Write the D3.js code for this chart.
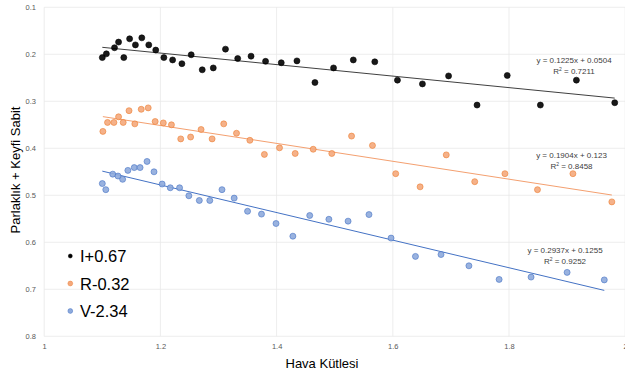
<!DOCTYPE html>
<html>
<head>
<meta charset="utf-8">
<script src="https://cdn.jsdelivr.net/npm/d3@7"></script>
<style>
  body { margin: 0; background: #fff; }
  svg { display: block; font-family: "Liberation Sans", Arial, sans-serif; }
</style>
</head>
<body>
<svg id="chart" width="625" height="378"></svg>
<script>
// air mass (x) and magnitude + arbitrary constant (y)
const xI = [1.100, 1.107, 1.121, 1.128, 1.137, 1.147, 1.157, 1.168, 1.180, 1.192, 1.206, 1.221, 1.237, 1.253, 1.272, 1.291, 1.312,
    1.333, 1.356, 1.381, 1.408, 1.435, 1.466, 1.498, 1.532, 1.569, 1.608, 1.651, 1.696, 1.745, 1.797, 1.854, 1.916, 1.982]
const yI = [0.207, 0.199, 0.186, 0.174, 0.207, 0.167, 0.180, 0.165, 0.180, 0.191, 0.207, 0.212, 0.220, 0.201, 0.233, 0.229, 0.189,
    0.209, 0.204, 0.215, 0.218, 0.214, 0.260, 0.229, 0.212, 0.216, 0.255, 0.263, 0.246, 0.308, 0.245, 0.308, 0.255, 0.303]

const xR = [1.101, 1.109, 1.120, 1.128, 1.136, 1.146, 1.156, 1.167, 1.179, 1.191, 1.205, 1.219, 1.235, 1.252, 1.270, 1.289, 1.309,
    1.331, 1.354, 1.379, 1.405, 1.432, 1.463, 1.495, 1.529, 1.565, 1.605, 1.647, 1.692, 1.741, 1.793, 1.849, 1.910, 1.977]
const yR = [0.364, 0.345, 0.345, 0.333, 0.345, 0.320, 0.348, 0.317, 0.314, 0.343, 0.346, 0.350, 0.380, 0.376, 0.360, 0.380, 0.348,
    0.368, 0.383, 0.413, 0.399, 0.411, 0.402, 0.411, 0.374, 0.394, 0.454, 0.482, 0.414, 0.471, 0.454, 0.488, 0.454, 0.514]

const xV = [1.100, 1.106, 1.118, 1.127, 1.135, 1.144, 1.155, 1.165, 1.177, 1.189, 1.203, 1.217, 1.233, 1.249, 1.267, 1.285, 1.306,
    1.327, 1.350, 1.374, 1.399, 1.428, 1.457, 1.490, 1.523, 1.559, 1.597, 1.639, 1.683, 1.731, 1.783, 1.838, 1.900, 1.964]
const yV = [0.475, 0.488, 0.455, 0.459, 0.466, 0.447, 0.441, 0.441, 0.428, 0.450, 0.476, 0.484, 0.484, 0.501, 0.511, 0.511, 0.488,
    0.506, 0.534, 0.540, 0.560, 0.587, 0.543, 0.551, 0.555, 0.541, 0.591, 0.630, 0.626, 0.650, 0.679, 0.674, 0.664, 0.680]

const seriesNames = ['I+0.67', 'R-0.32', 'V-2.34']
const slopes = [0.1225, 0.1904, 0.2937]
const intercepts = [0.0504, 0.123, 0.1255]
const r2 = ['0.7211', '0.8458', '0.9252']
const interceptLabels = ['0.0504', '0.123', '0.1255']

const xTicks = [1, 1.2, 1.4, 1.6, 1.8, 2]
const yTicks = [0.1, 0.2, 0.3, 0.4, 0.5, 0.6, 0.7, 0.8]

const svg = d3.select('#chart')

const x = d3.scaleLinear().domain([1, 2]).range([44.2, 625.2])
const y = d3.scaleLinear().domain([0.1, 0.8]).range([7.3, 336.3])

// grid
const grid = svg.append('g')
grid.selectAll('.hg').data(yTicks).join('line')
    .attr('x1', x(1)).attr('x2', x(2))
    .attr('y1', d => y(d)).attr('y2', d => y(d))
    .attr('stroke', '#e9e9e9').attr('stroke-width', 0.8)
grid.selectAll('.vg').data(xTicks).join('line')
    .attr('x1', d => x(d)).attr('x2', d => x(d))
    .attr('y1', y(0.1)).attr('y2', y(0.8))
    .attr('stroke', '#e9e9e9').attr('stroke-width', 0.8)

// axes (labels only, no domain line)
const yAxis = svg.append('g')
    .attr('transform', 'translate(40,0)')
    .call(d3.axisLeft(y).tickValues(yTicks).tickSize(0).tickPadding(4).tickFormat(d3.format('.1f')))
yAxis.select('.domain').remove()
yAxis.selectAll('text').attr('fill', '#595959').style('font-size', '7.5px')

const xAxis = svg.append('g')
    .attr('transform', 'translate(0,341)')
    .call(d3.axisBottom(x).tickValues(xTicks).tickSize(0).tickPadding(3).tickFormat(d => d3.format('')(+d.toFixed(1))))
xAxis.select('.domain').remove()
xAxis.selectAll('text').attr('fill', '#595959').style('font-size', '7.5px')

const series = [
    { name: seriesNames[0], xs: xI, ys: yI, fill: '#000000', stroke: '#000000', line: '#404040' },
    { name: seriesNames[1], xs: xR, ys: yR, fill: '#f4a87c', stroke: '#ed7d31', line: '#f4a070' },
    { name: seriesNames[2], xs: xV, ys: yV, fill: '#8eaadc', stroke: '#4472c4', line: '#4472c4' }
]

// trend lines from the printed equations
series.forEach((s, i) => {
    const x0 = d3.min(s.xs), x1 = d3.max(s.xs)
    svg.append('line')
        .attr('x1', x(x0)).attr('y1', y(slopes[i] * x0 + intercepts[i]))
        .attr('x2', x(x1)).attr('y2', y(slopes[i] * x1 + intercepts[i]))
        .attr('stroke', s.line).attr('stroke-width', 1)
})

// points
series.forEach(s => {
    svg.append('g').selectAll('circle')
        .data(s.xs.map((v, j) => [v, s.ys[j]]))
        .join('circle')
        .attr('cx', d => x(d[0])).attr('cy', d => y(d[1]))
        .attr('r', 3)
        .attr('fill', s.fill).attr('fill-opacity', 0.9)
        .attr('stroke', s.stroke).attr('stroke-width', 0.6)
})

// equation labels
const eqPos = [[574, 63], [571.5, 157.5], [565, 253]]
series.forEach((s, i) => {
    const g = svg.append('g').attr('fill', '#404040').style('font-size', '8px').attr('text-anchor', 'middle')
    g.append('text').attr('x', eqPos[i][0]).attr('y', eqPos[i][1])
        .text(`y = ${slopes[i]}x + ${interceptLabels[i]}`)
    const t = g.append('text').attr('x', eqPos[i][0]).attr('y', eqPos[i][1] + 11)
    t.append('tspan').text('R')
    t.append('tspan').text('2').attr('dy', -3).style('font-size', '5px')
    t.append('tspan').text(` = ${r2[i]}`).attr('dy', 3)
})

// legend
const legend = svg.append('g')
series.forEach((s, i) => {
    const ly = 256 + i * 27.5
    legend.append('circle').attr('cx', 70.3).attr('cy', ly).attr('r', i === 0 ? 2 : 2.4)
        .attr('fill', s.fill).attr('stroke', s.stroke).attr('stroke-width', 0.5)
    legend.append('text').attr('x', 80).attr('y', ly + 6)
        .style('font-size', '16.5px').attr('fill', '#000')
        .text(s.name)
})

// axis titles
svg.append('text').attr('x', 322).attr('y', 368).attr('text-anchor', 'middle')
    .style('font-size', '13px').attr('fill', '#000').text('Hava Kütlesi')
svg.append('text').attr('transform', 'translate(20,170)rotate(-90)').attr('text-anchor', 'middle')
    .style('font-size', '13px').attr('fill', '#000').text('Parlaklık + Keyfi Sabit')
</script>
</body>
</html>
